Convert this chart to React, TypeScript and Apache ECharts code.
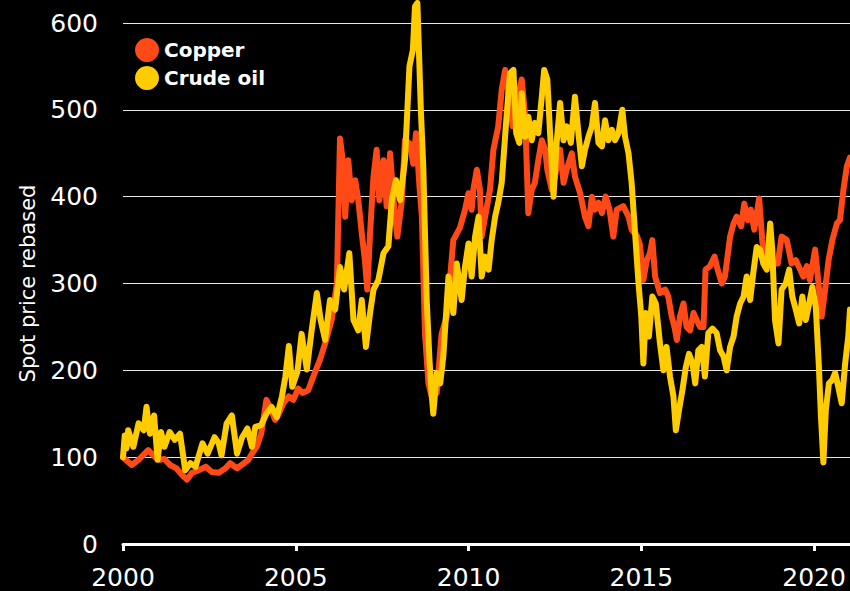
import React, { useEffect, useRef } from "react";
import * as echarts from "echarts";

const seriesNames = ["Copper", "Crude oil"];
const yTicks = [0, 100, 200, 300, 400, 500, 600];

const copper: [number, number][] = [
  [2000.0, 100], [2000.25, 91], [2000.45, 97], [2000.73, 108], [2000.93, 100],
  [2001.07, 97], [2001.2, 98], [2001.36, 91], [2001.55, 87], [2001.7, 80],
  [2001.85, 74], [2002.0, 82], [2002.2, 85], [2002.4, 89], [2002.57, 83],
  [2002.77, 82], [2002.96, 87], [2003.1, 93], [2003.3, 87], [2003.5, 93],
  [2003.63, 97], [2003.73, 104], [2003.87, 112], [2004.0, 127], [2004.15, 166],
  [2004.3, 154], [2004.4, 143], [2004.5, 149], [2004.64, 162], [2004.8, 170],
  [2004.93, 166], [2005.07, 179], [2005.2, 174], [2005.36, 177], [2005.51, 193],
  [2005.7, 212], [2005.85, 231], [2006.04, 258], [2006.19, 300], [2006.28, 467],
  [2006.38, 435], [2006.43, 377], [2006.52, 442], [2006.62, 396], [2006.72, 419],
  [2006.81, 396], [2006.91, 358], [2007.0, 327], [2007.07, 293], [2007.15, 358],
  [2007.25, 423], [2007.34, 454], [2007.42, 396], [2007.54, 442], [2007.63, 389],
  [2007.73, 450], [2007.83, 396], [2007.94, 354], [2008.07, 396], [2008.16, 465],
  [2008.3, 461], [2008.4, 438], [2008.48, 473], [2008.58, 412], [2008.65, 377],
  [2008.74, 242], [2008.84, 185], [2008.93, 170], [2009.08, 174], [2009.22, 242],
  [2009.37, 262], [2009.56, 350], [2009.75, 364], [2009.9, 385], [2010.0, 404],
  [2010.09, 385], [2010.14, 408], [2010.24, 431], [2010.33, 408], [2010.38, 354],
  [2010.48, 377], [2010.62, 408], [2010.72, 454], [2010.86, 481], [2010.96, 523],
  [2011.06, 546], [2011.15, 523], [2011.28, 481], [2011.4, 508], [2011.54, 535],
  [2011.64, 492], [2011.68, 442], [2011.73, 381], [2011.83, 408], [2011.92, 416],
  [2012.02, 442], [2012.12, 465], [2012.22, 454], [2012.28, 431], [2012.41, 408],
  [2012.5, 423], [2012.65, 454], [2012.75, 416], [2012.84, 431], [2012.99, 450],
  [2013.08, 423], [2013.23, 404], [2013.37, 377], [2013.47, 366], [2013.57, 400],
  [2013.66, 385], [2013.76, 393], [2013.86, 381], [2013.97, 400], [2014.08, 385],
  [2014.19, 354], [2014.29, 385], [2014.48, 389], [2014.63, 377], [2014.72, 362],
  [2014.87, 355], [2014.96, 345], [2015.06, 304], [2015.16, 327], [2015.25, 335],
  [2015.32, 350], [2015.4, 308], [2015.54, 289], [2015.69, 293], [2015.78, 285],
  [2015.88, 262], [2015.96, 250], [2016.03, 235], [2016.12, 262], [2016.22, 277],
  [2016.31, 250], [2016.41, 246], [2016.51, 266], [2016.6, 258], [2016.7, 250],
  [2016.8, 250], [2016.86, 316], [2016.99, 320], [2017.12, 331], [2017.21, 316],
  [2017.33, 300], [2017.42, 308], [2017.57, 354], [2017.67, 369], [2017.76, 377],
  [2017.89, 366], [2017.98, 392], [2018.08, 373], [2018.17, 385], [2018.27, 362],
  [2018.41, 398], [2018.5, 350], [2018.6, 320], [2018.7, 327], [2018.82, 323],
  [2018.95, 323], [2019.06, 354], [2019.21, 350], [2019.35, 323], [2019.47, 327],
  [2019.6, 316], [2019.69, 308], [2019.79, 320], [2019.88, 304], [2020.03, 339],
  [2020.13, 300], [2020.22, 262], [2020.32, 293], [2020.42, 327], [2020.53, 350],
  [2020.66, 369], [2020.75, 373], [2020.85, 408], [2020.95, 435], [2021.04, 445],
];

const crudeOil: [number, number][] = [
  [2000.0, 100], [2000.05, 125], [2000.1, 110], [2000.15, 131], [2000.3, 112],
  [2000.45, 139], [2000.6, 131], [2000.68, 158], [2000.78, 127], [2000.9, 148],
  [2001.0, 97], [2001.1, 129], [2001.2, 112], [2001.35, 129], [2001.5, 120],
  [2001.65, 127], [2001.8, 85], [2001.95, 93], [2002.1, 89], [2002.3, 116],
  [2002.45, 104], [2002.65, 123], [2002.77, 116], [2002.85, 102], [2003.0, 139],
  [2003.15, 148], [2003.3, 104], [2003.45, 123], [2003.6, 133], [2003.73, 112],
  [2003.83, 135], [2004.0, 137], [2004.15, 150], [2004.3, 158], [2004.45, 146],
  [2004.6, 170], [2004.7, 193], [2004.8, 228], [2004.9, 181], [2005.05, 199],
  [2005.17, 242], [2005.32, 201], [2005.46, 246], [2005.61, 289], [2005.72, 258],
  [2005.85, 235], [2005.99, 281], [2006.14, 270], [2006.28, 319], [2006.4, 293],
  [2006.55, 335], [2006.67, 258], [2006.81, 246], [2006.91, 281], [2007.03, 227],
  [2007.15, 266], [2007.25, 293], [2007.39, 304], [2007.54, 335], [2007.68, 343],
  [2007.78, 396], [2007.9, 419], [2008.02, 396], [2008.16, 442], [2008.29, 550],
  [2008.39, 569], [2008.45, 619], [2008.52, 623], [2008.62, 500], [2008.69, 435],
  [2008.79, 281], [2008.87, 212], [2008.93, 174], [2008.98, 150], [2009.08, 197],
  [2009.18, 185], [2009.27, 216], [2009.42, 308], [2009.56, 266], [2009.66, 323],
  [2009.8, 281], [2009.9, 320], [2010.0, 346], [2010.09, 308], [2010.19, 354],
  [2010.29, 377], [2010.38, 308], [2010.48, 331], [2010.58, 316], [2010.67, 350],
  [2010.77, 377], [2010.86, 393], [2010.96, 416], [2011.1, 492], [2011.2, 542],
  [2011.3, 546], [2011.38, 473], [2011.47, 462], [2011.54, 519], [2011.64, 469],
  [2011.73, 492], [2011.83, 465], [2011.92, 485], [2012.02, 473], [2012.12, 515],
  [2012.19, 546], [2012.28, 535], [2012.36, 473], [2012.46, 400], [2012.55, 462],
  [2012.65, 508], [2012.75, 465], [2012.84, 481], [2012.96, 462], [2013.08, 515],
  [2013.18, 473], [2013.28, 435], [2013.37, 454], [2013.47, 469], [2013.57, 481],
  [2013.66, 508], [2013.76, 462], [2013.86, 458], [2013.95, 488], [2014.05, 465],
  [2014.15, 477], [2014.24, 465], [2014.34, 473], [2014.45, 500], [2014.53, 469],
  [2014.63, 450], [2014.72, 416], [2014.82, 358], [2014.92, 300], [2015.0, 262],
  [2015.06, 208], [2015.13, 266], [2015.22, 239], [2015.32, 285], [2015.42, 277],
  [2015.54, 231], [2015.64, 200], [2015.73, 227], [2015.83, 193], [2015.93, 170],
  [2016.0, 131], [2016.09, 154], [2016.19, 177], [2016.29, 204], [2016.38, 219],
  [2016.48, 208], [2016.56, 185], [2016.65, 223], [2016.75, 227], [2016.84, 193],
  [2016.94, 243], [2017.06, 248], [2017.18, 243], [2017.28, 223], [2017.38, 216],
  [2017.47, 200], [2017.57, 227], [2017.67, 239], [2017.76, 262], [2017.86, 277],
  [2017.96, 285], [2018.05, 308], [2018.15, 281], [2018.24, 312], [2018.34, 342],
  [2018.44, 339], [2018.53, 323], [2018.63, 316], [2018.73, 369], [2018.79, 339],
  [2018.87, 258], [2018.97, 231], [2019.06, 293], [2019.18, 300], [2019.28, 316],
  [2019.37, 285], [2019.47, 270], [2019.57, 254], [2019.66, 285], [2019.76, 258],
  [2019.86, 277], [2019.95, 296], [2020.05, 273], [2020.14, 204], [2020.2, 146],
  [2020.27, 94], [2020.34, 154], [2020.43, 185], [2020.53, 189], [2020.61, 197],
  [2020.7, 181], [2020.8, 162], [2020.9, 208], [2020.99, 239], [2021.04, 270],
];

const COLORS = ["#FF4A17", "#FFCC00"];
const FONT = "'DejaVu Sans', 'Noto Sans', sans-serif";

export default function App() {
  const ref = useRef<HTMLDivElement>(null);
  useEffect(() => {
    if (!ref.current) return;
    const chart = echarts.init(ref.current, null, { renderer: "svg" });
    chart.setOption({
      animation: false,
      backgroundColor: "#000000",
      textStyle: { fontFamily: FONT },
      grid: { left: 123, right: 0, top: 23, bottom: 47, containLabel: false },
      legend: {
        data: seriesNames,
        orient: "vertical",
        left: 135,
        top: 38,
        padding: 0,
        icon: "circle",
        itemWidth: 24,
        itemHeight: 24,
        itemGap: 4,
        textStyle: { color: "#ffffff", fontSize: 20, fontWeight: "bold", fontFamily: FONT },
      },
      xAxis: {
        type: "value",
        min: 2000,
        max: 2021.04,
        interval: 5,
        axisLine: { show: true, lineStyle: { color: "#ffffff", width: 3 } },
        axisTick: { show: true, length: 7, lineStyle: { color: "#ffffff", width: 3 } },
        axisLabel: {
          color: "#ffffff",
          fontSize: 25,
          margin: 21,
          showMaxLabel: false,
          formatter: (v: number) => String(Math.round(v)),
        },
        splitLine: { show: false },
      },
      yAxis: {
        type: "value",
        min: yTicks[0],
        max: yTicks[yTicks.length - 1],
        interval: 100,
        name: "Spot price rebased",
        nameLocation: "middle",
        nameGap: 85,
        nameRotate: 90,
        nameTextStyle: { color: "#ffffff", fontSize: 21 },
        axisLine: { show: false },
        axisTick: { show: false },
        axisLabel: { color: "#ffffff", fontSize: 25, margin: 25 },
        splitLine: { show: true, lineStyle: { color: "#e6e6e6", width: 1 } },
      },
      series: [
        {
          name: seriesNames[0],
          type: "line",
          data: copper,
          showSymbol: false,
          symbol: "circle",
          clip: false,
          lineStyle: { color: COLORS[0], width: 6, join: "round", cap: "round" },
          itemStyle: { color: COLORS[0] },
          z: 2,
        },
        {
          name: seriesNames[1],
          type: "line",
          data: crudeOil,
          showSymbol: false,
          symbol: "circle",
          clip: false,
          lineStyle: { color: COLORS[1], width: 6, join: "round", cap: "round" },
          itemStyle: { color: COLORS[1] },
          z: 3,
        },
      ],
    });
    return () => chart.dispose();
  }, []);
  return (
    <div
      ref={ref}
      style={{ position: "fixed", left: 0, top: 0, width: 850, height: 591, background: "#000" }}
    />
  );
}
